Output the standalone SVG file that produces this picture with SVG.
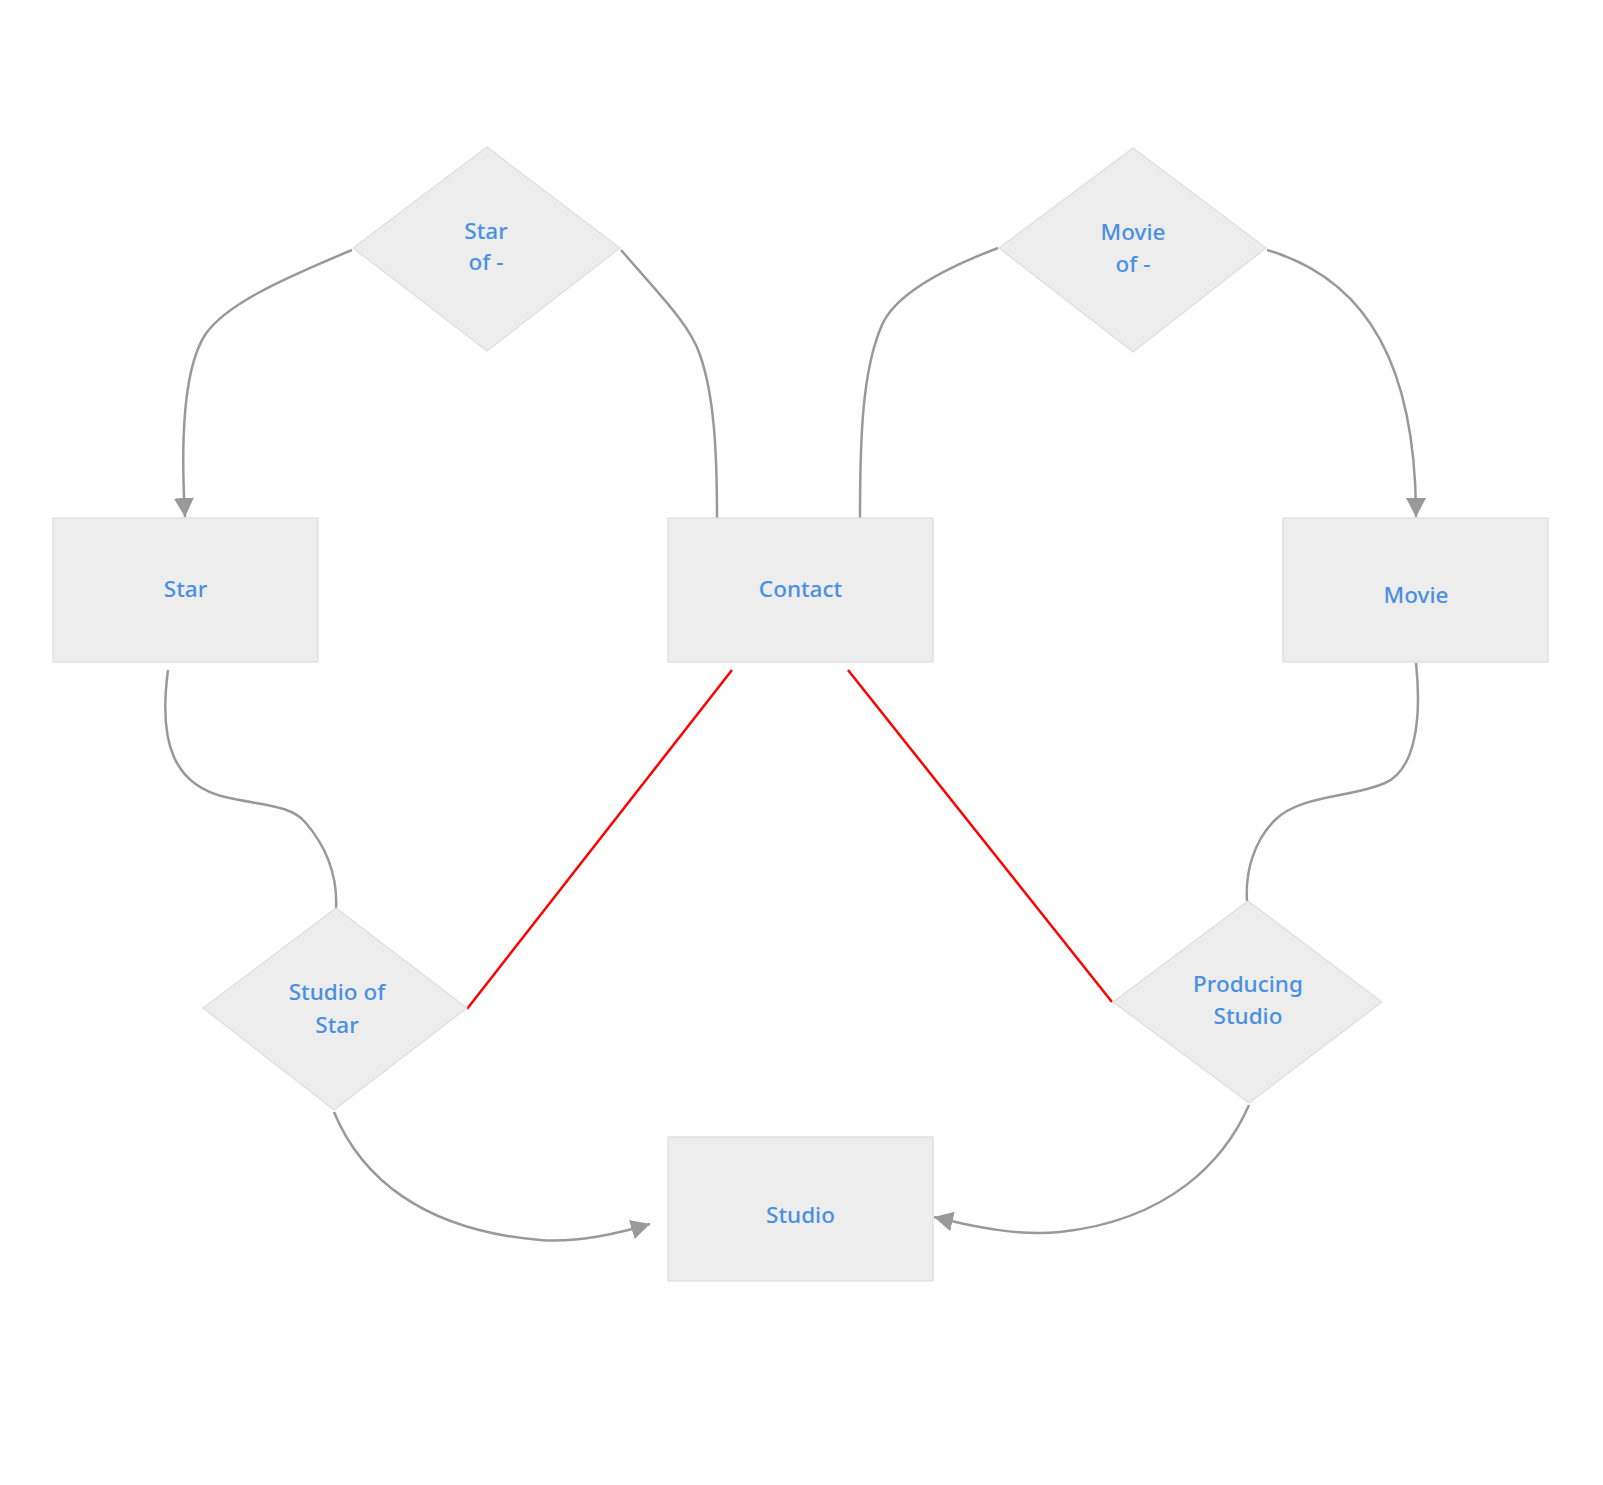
<svg xmlns="http://www.w3.org/2000/svg" width="1603" height="1485" viewBox="0 0 1603 1485">
<style>
.node{fill:#ededed;stroke:#dddddd;stroke-width:1.2}
.lbl{font-family:"Noto Sans","Liberation Sans",sans-serif;font-size:22.5px;font-weight:500;fill:#4a90e2;text-anchor:middle}
.edge{fill:none;stroke:#999999;stroke-width:2.5}
.red{fill:none;stroke:#ff0000;stroke-width:2.5}
</style>
<defs>
<marker id="arr" markerUnits="userSpaceOnUse" markerWidth="22" markerHeight="22" refX="19" refY="10" orient="auto">
<path d="M0,0 L19,10 L0,20 z" fill="#999999"/>
</marker>
</defs>
<rect width="1603" height="1485" fill="#ffffff"/>
<g id="connectors">
<path class="edge" d="M352,250 C 280,280 225,305 205,335 C 186,365 180,430 185,517" marker-end="url(#arr)"/>
<path class="edge" d="M621,250 C 660,295 690,325 700,355 C 714,395 717,450 717,518"/>
<path class="edge" d="M998,248 C 940,270 895,295 882,325 C 862,370 860,440 860,518"/>
<path class="edge" d="M1267,250 C 1370,280 1416,370 1416,517" marker-end="url(#arr)"/>
<path class="edge" d="M168,670 C 158,745 175,785 225,797 C 265,806 290,805 305,822 C 325,845 338,875 336,910"/>
<path class="edge" d="M1416,663 C 1422,720 1415,770 1385,783 C 1350,798 1300,795 1275,820 C 1255,840 1245,870 1247,901"/>
<path class="edge" d="M334,1112 C 360,1175 420,1230 540,1240 C 580,1243 620,1233 650,1224" marker-end="url(#arr)"/>
<path class="edge" d="M1249,1105 C 1225,1160 1170,1220 1060,1232 C 1020,1236 980,1228 934,1217" marker-end="url(#arr)"/>
<path class="red" d="M732,670 L467,1009"/>
<path class="red" d="M848,670 L1112,1002"/>
</g>
<g id="star-of">
<polygon class="node" points="487,147 620,248 487,351 353,248"/>
<text class="lbl" x="486" y="239">Star</text>
<text class="lbl" x="486" y="270">of -</text>
</g>
<g id="movie-of">
<polygon class="node" points="1133,148 1266,248 1133,352 999,248"/>
<text class="lbl" x="1133" y="240">Movie</text>
<text class="lbl" x="1133" y="272">of -</text>
</g>
<g id="star">
<rect class="node" x="53" y="518" width="265" height="144"/>
<text class="lbl" x="185.5" y="597">Star</text>
</g>
<g id="contact">
<rect class="node" x="668" y="518" width="265" height="144"/>
<text class="lbl" x="800.5" y="597">Contact</text>
</g>
<g id="movie">
<rect class="node" x="1283" y="518" width="265" height="144"/>
<text class="lbl" x="1416" y="603">Movie</text>
</g>
<g id="studio-of-star">
<polygon class="node" points="336,908 467,1008 334,1110 203,1008"/>
<text class="lbl" x="337" y="1000">Studio of</text>
<text class="lbl" x="337" y="1032.5">Star</text>
</g>
<g id="producing-studio">
<polygon class="node" points="1248,901 1382,1002 1249,1103 1113,1002"/>
<text class="lbl" x="1248" y="991.5">Producing</text>
<text class="lbl" x="1248" y="1023.5">Studio</text>
</g>
<g id="studio">
<rect class="node" x="668" y="1137" width="265" height="144"/>
<text class="lbl" x="800.5" y="1222.5">Studio</text>
</g>
</svg>
